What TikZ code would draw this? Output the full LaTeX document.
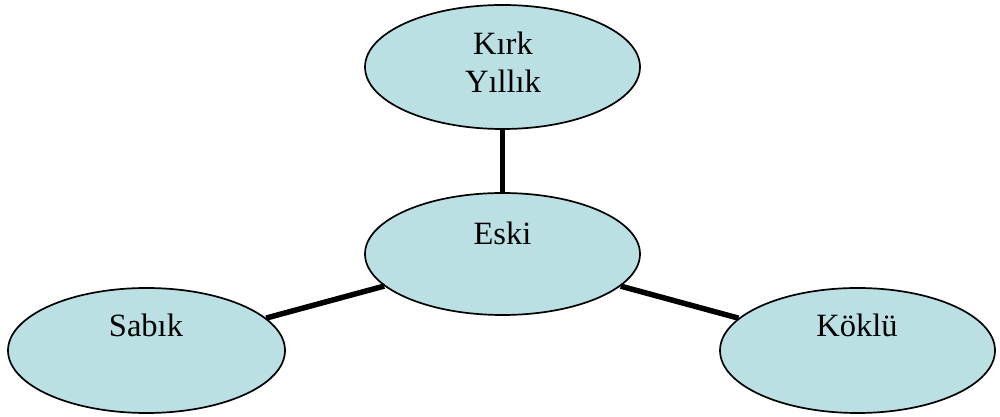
\documentclass[tikz,border=0pt]{standalone}
\usepackage{fontspec}
\setmainfont{Liberation Serif}
\usetikzlibrary{shapes.geometric}
\definecolor{bubble}{RGB}{186,224,227}
\tikzset{
  bubblebox/.style={ellipse, draw=black, line width=1.7pt, fill=bubble, inner sep=0pt},
  label/.style={font=\fontsize{32.5}{38}\selectfont, inner sep=0pt, align=center},
  link/.style={line width=5.5pt, black}
}
\begin{document}
\begin{tikzpicture}[x=1pt,y=1pt]
\useasboundingbox (0,0) rectangle (1000,417);
\node[bubblebox, minimum width=275pt, minimum height=124pt] (kirk) at (502.5,350) {};
\node[bubblebox, minimum width=275pt, minimum height=122pt] (eski) at (502.5,163) {};
\node[bubblebox, minimum width=277pt, minimum height=125pt] (sabik) at (146.5,66.5) {};
\node[bubblebox, minimum width=275pt, minimum height=125pt] (koklu) at (857.5,66.5) {};
\draw[link] (kirk) -- (eski);
\draw[link] (eski) -- (sabik);
\draw[link] (eski) -- (koklu);
\node[label, anchor=center] (tkirk) at (503,355) {Kırk\\Yıllık};
\node[label, anchor=base] (teski) at (502.5,172) {Eski};
\node[label, anchor=base] (tsabik) at (146,80) {Sabık};
\node[label, anchor=base] (tkoklu) at (857,80) {Köklü};
\end{tikzpicture}
\end{document}
